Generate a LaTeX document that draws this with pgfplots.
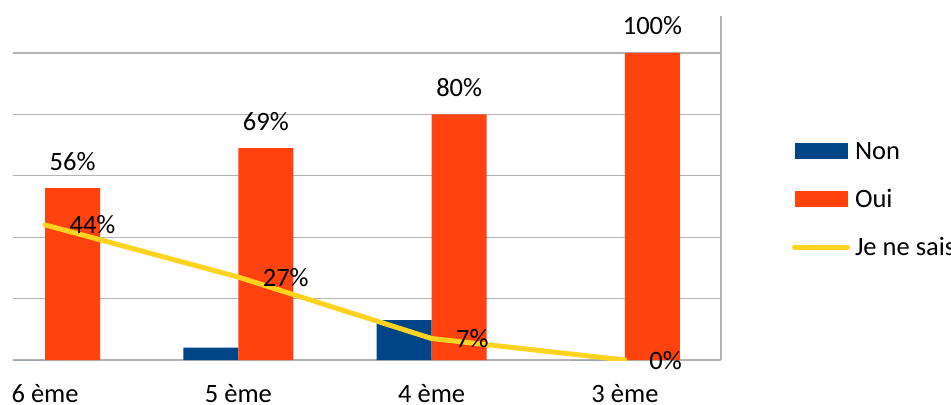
\documentclass[border=0pt]{standalone}
\usepackage{pgfplots}
\pgfplotsset{compat=1.18}
\usepackage{fontspec}
\setmainfont{Carlito}

\definecolor{non}{HTML}{004586}
\definecolor{oui}{HTML}{FF420E}
\definecolor{jns}{HTML}{FFD320}
\definecolor{grille}{HTML}{B3B3B3}

\begin{document}
\begin{tikzpicture}[font=\fontsize{26.5bp}{32bp}\selectfont]
\begin{axis}[
    scale only axis,
    width=708bp, height=344bp,
    xmin=-0.166, xmax=3.497,
    ymin=0, ymax=112.05,
    axis x line=bottom, axis y line=right,
    axis line style={-, draw=grille, line width=1.5bp},
    major tick length=0pt,
    xtick={0,1,2,3},
    xticklabels={6 ème, 5 ème, 4 ème, 3 ème},
    xticklabel style={anchor=base, inner sep=0pt, text depth=0pt, yshift=-42bp},
    ytick={0,20,40,60,80,100},
    yticklabels={},
    ymajorgrids,
    grid style={draw=grille, line width=1.2bp},
    /pgf/number format/assume math mode=true,
    legend style={at={(axis description cs:1.1003,0.6424)}, anchor=north west,
        draw=none, fill=none, inner sep=0pt, outer sep=0pt,
        column sep=5bp, row sep=0pt,
        nodes={inner sep=0pt, text height=20bp, text depth=28bp}},
    legend cell align=left,
]
\coordinate (o) at (rel axis cs:0,0);

% Non
\addplot[ybar, bar width=55bp, bar shift=-27.5bp, fill=non, draw=none,
    legend image code/.code={\fill[non] (0bp,4bp) rectangle (53bp,20bp);}]
    coordinates {(0,0) (1,4) (2,13) (3,0)};

% Oui
\addplot[ybar, bar width=55bp, bar shift=27.5bp, fill=oui, draw=none,
    nodes near coords={\pgfmathprintnumber{\pgfplotspointmeta}\%},
    every node near coord/.append style={anchor=base, inner sep=0pt, xshift=27.5bp, yshift=18bp, text=black},
    legend image code/.code={\fill[oui] (0bp,4bp) rectangle (53bp,20bp);}]
    coordinates {(0,56) (1,69) (2,80) (3,100)};

% Je ne sais
\addplot[jns, line width=5bp, line join=round, line cap=round,
    nodes near coords={\pgfmathprintnumber{\pgfplotspointmeta}\%},
    every node near coord/.append style={anchor=base west, inner sep=0pt, xshift=22bp, yshift=-9bp, text=black},
    legend image code/.code={\draw[jns, line width=5bp, line cap=round] (0bp,12bp) -- (53bp,12bp);}]
    coordinates {(0,44) (1,27) (2,7) (3,0)};

\legend{Non, Oui, Je ne sais}
\end{axis}
\pgfresetboundingbox
\path ([shift={(-13bp,-45bp)}]o) rectangle ++(951bp,405bp);
\end{tikzpicture}
\end{document}
